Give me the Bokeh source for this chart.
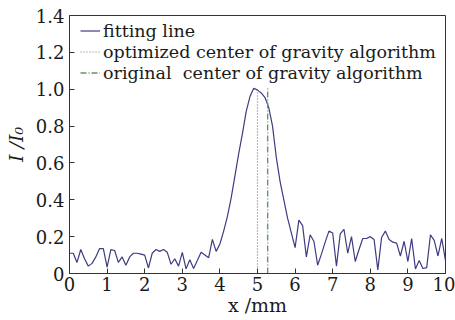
from bokeh.plotting import figure
from bokeh.models import Legend, LegendItem, FixedTicker, Range1d, CustomJSTickFormatter
from bokeh.embed import file_html
from bokeh.resources import INLINE

x_mm = [i / 10 for i in range(101)]
intensity = [
    0.11, 0.11, 0.06, 0.13, 0.08, 0.04, 0.055, 0.09, 0.135, 0.135,
    0.035, 0.13, 0.125, 0.06, 0.09, 0.045, 0.09, 0.11, 0.11, 0.105,
    0.10, 0.03, 0.11, 0.13, 0.12, 0.13, 0.115, 0.05, 0.08, 0.04,
    0.115, 0.025, 0.075, 0.027, 0.07, 0.115, 0.10, 0.085, 0.185, 0.12,
    0.16, 0.23, 0.31, 0.41, 0.53, 0.65, 0.76, 0.88, 0.96, 1.005,
    0.995, 0.98, 0.955, 0.90, 0.80, 0.63, 0.50, 0.40, 0.30, 0.22,
    0.14, 0.29, 0.26, 0.09, 0.21, 0.175, 0.045, 0.105, 0.17, 0.23,
    0.22, 0.04, 0.215, 0.24, 0.11, 0.20, 0.065, 0.13, 0.19, 0.19,
    0.20, 0.185, 0.02, 0.195, 0.23, 0.185, 0.17, 0.165, 0.095, 0.175,
    0.065, 0.19, 0.025, 0.07, 0.027, 0.032, 0.21, 0.18, 0.095, 0.19,
    0.07,
]
optimized_center = 5.0
original_center = 5.27
x_ticks = list(range(0, 11))
y_ticks = [0, 0.2, 0.4, 0.6, 0.8, 1.0, 1.2, 1.4]
legend_labels = ["fitting line", "optimized center of gravity algorithm",
                 "original  center of gravity algorithm"]

FONT = "DejaVu Serif"
TXT = "#1a1a1a"

p = figure(width=455, height=320, output_backend="svg", toolbar_location=None,
           x_range=Range1d(0, 10), y_range=Range1d(0, 1.4),
           min_border_left=69, min_border_right=10, min_border_top=15, min_border_bottom=47)
p.grid.visible = False
p.outline_line_color = "#333333"
p.outline_line_width = 1

r_fit = p.line(x_mm, intensity, line_color="#3c3c82", line_width=1.2)
peak = max(intensity)
r_opt = p.line([optimized_center, optimized_center], [0, peak], line_color="#777777",
               line_width=1.2, line_dash="1 2")
r_org = p.line([original_center, original_center], [0, peak], line_color="#6f8f6f",
               line_width=1.4, line_dash="6 2 1 2")

for ax in (p.xaxis[0], p.yaxis[0]):
    ax.major_tick_in = 5
    ax.major_tick_out = 0
    ax.minor_tick_line_color = None
    ax.axis_line_color = "#333333"
    ax.major_tick_line_color = "#333333"
    ax.major_label_text_font = FONT
    ax.major_label_text_font_size = "18px"
    ax.major_label_text_color = TXT
    ax.axis_label_text_font = FONT
    ax.axis_label_text_font_size = "19px"
    ax.axis_label_text_color = TXT

p.xaxis[0].ticker = FixedTicker(ticks=x_ticks)
p.yaxis[0].ticker = FixedTicker(ticks=y_ticks)
p.yaxis[0].formatter = CustomJSTickFormatter(code="return tick == 0 ? '0' : tick.toFixed(1);")
p.xaxis[0].major_label_standoff = 3
p.yaxis[0].major_label_standoff = 5
p.xaxis[0].axis_label = "x /mm"
p.xaxis[0].axis_label_text_font_style = "normal"
p.xaxis[0].axis_label_standoff = 0
p.yaxis[0].axis_label = "I /I\u2080"
p.yaxis[0].axis_label_text_font_style = "italic"
p.yaxis[0].axis_label_standoff = 6

legend = Legend(items=[
    LegendItem(label=legend_labels[0], renderers=[r_fit]),
    LegendItem(label=legend_labels[1], renderers=[r_opt]),
    LegendItem(label=legend_labels[2], renderers=[r_org]),
], location=(11, 190))
legend.border_line_color = None
legend.background_fill_alpha = 0
legend.label_text_font = FONT
legend.label_text_font_size = "17.5px"
legend.label_text_color = TXT
legend.glyph_width = 20
legend.glyph_height = 21
legend.label_height = 21
legend.label_standoff = 3
legend.spacing = 0
legend.padding = 0
legend.margin = 0
p.add_layout(legend)

open("out.html", "w").write(file_html(p, INLINE))
